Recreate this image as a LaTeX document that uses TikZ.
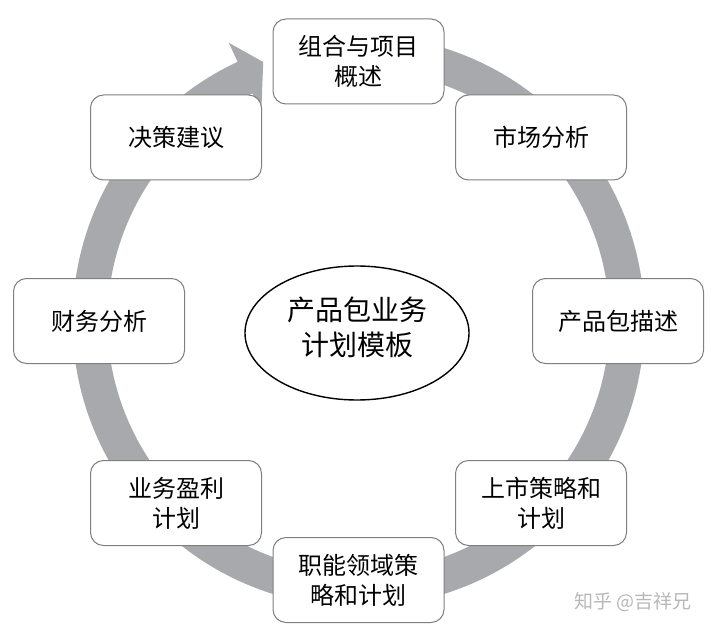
\documentclass[tikz,border=0pt]{standalone}
\usepackage{fontspec}
\newfontfamily\cjk{Noto Sans CJK SC}
\usetikzlibrary{shapes.geometric}
\definecolor{ringgray}{HTML}{A7A9AC}
\definecolor{boxgray}{HTML}{7F7F7F}
\begin{document}
\begin{tikzpicture}[x=1pt,y=1pt,
  stepbox/.style={draw=boxgray, line width=1pt, rounded corners=13pt, fill=white,
    minimum width=171pt, minimum height=85pt, align=center, inner sep=0pt,
    font=\cjk\fontsize{24}{30}\selectfont},
  hub/.style={draw=black, line width=1.4pt, ellipse, fill=white,
    minimum width=224pt, minimum height=134pt, inner sep=0pt}]
\useasboundingbox (0,0) rectangle (720,633);
% cycle arrow
\begin{scope}[shift={(358.5,312)}]
\fill[ringgray] (85:286) arc[start angle=85, end angle=-245, radius=286]
  -- (115:307) -- (110.2:276) -- (115:230) -- (115:251)
  arc[start angle=-245, end angle=85, radius=251] -- cycle;
\end{scope}
% boxes
\node[stepbox] (s1) at (358.5,571.5) {组合与项目\\概述};
\node[stepbox] (s2) at (541,495.5) {市场分析};
\node[stepbox] (s3) at (618,312) {产品包描述};
\node[stepbox] (s4) at (541,130) {上市策略和\\计划};
\node[stepbox] (s5) at (358.5,53) {职能领域策\\略和计划};
\node[stepbox] (s6) at (176,130) {业务盈利\\计划};
\node[stepbox] (s7) at (99,312) {财务分析};
\node[stepbox] (s8) at (176,495.5) {决策建议};
% hub
\node[hub] (hub) at (357,300) {};
\node[align=center, font=\cjk\fontsize{28}{35}\selectfont] (hubtext) at (357,305.5) {产品包业务\\计划模板};
% watermark
\node[font=\cjk\fontsize{19}{19}\selectfont, text=black!28] (wm) at (633,31) {知乎 @吉祥兄};
\end{tikzpicture}
\end{document}
